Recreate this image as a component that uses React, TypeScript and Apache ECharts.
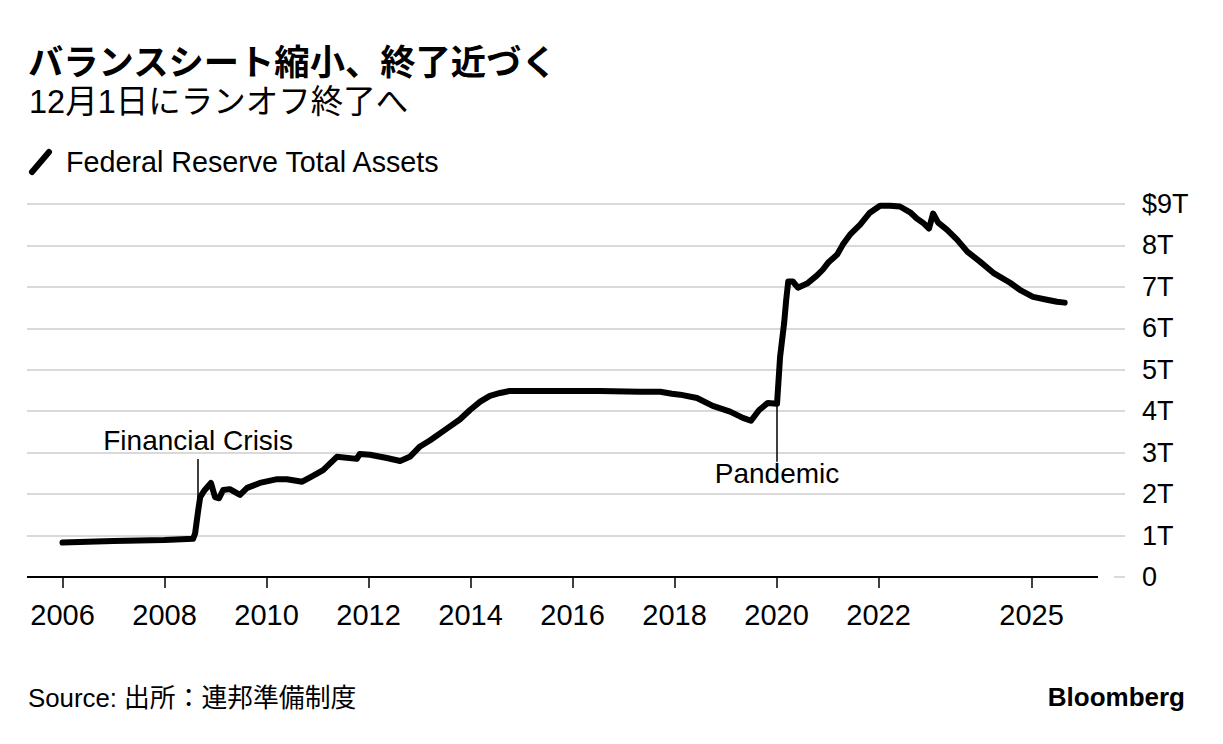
import React, { useEffect, useRef } from "react";
import * as echarts from "echarts";

// Decimal-year positions
const years = [
  2006.0, 2007.0, 2008.0, 2008.56, 2008.6, 2008.66, 2008.7, 2008.79, 2008.91, 2008.99,
  2009.07, 2009.15, 2009.28, 2009.48, 2009.62, 2009.87, 2010.21, 2010.4, 2010.7, 2010.91,
  2011.11, 2011.38, 2011.77, 2011.83, 2012.03, 2012.36, 2012.62, 2012.81, 2013.01, 2013.21,
  2013.5, 2013.79, 2013.99, 2014.19, 2014.38, 2014.58, 2014.77, 2015.17, 2015.75, 2016.54,
  2017.32, 2017.72, 2017.95, 2018.11, 2018.44, 2018.75, 2019.09, 2019.34, 2019.5, 2019.66,
  2019.83, 2020.01, 2020.07, 2020.15, 2020.19, 2020.23, 2020.32, 2020.42, 2020.6, 2020.79,
  2020.91, 2021.01, 2021.19, 2021.3, 2021.44, 2021.64, 2021.83, 2022.03, 2022.23, 2022.42,
  2022.62, 2022.75, 2022.87, 2022.99, 2023.07, 2023.17, 2023.34, 2023.54, 2023.74, 2023.99,
  2024.25, 2024.58, 2024.77, 2025.03, 2025.3, 2025.5, 2025.65,
];

// Federal Reserve total assets, trillions of dollars
const assets = [
  0.83, 0.87, 0.89, 0.92, 1.05, 1.6, 1.93, 2.1, 2.27, 1.93,
  1.9, 2.1, 2.12, 1.98, 2.15, 2.27, 2.36, 2.36, 2.3, 2.44,
  2.58, 2.9, 2.85, 2.97, 2.95, 2.87, 2.8, 2.9, 3.15, 3.3,
  3.55, 3.8, 4.03, 4.23, 4.37, 4.44, 4.49, 4.49, 4.49, 4.49,
  4.47, 4.47, 4.42, 4.4, 4.32, 4.13, 3.99, 3.84, 3.77, 4.03,
  4.2, 4.18, 5.31, 6.13, 6.69, 7.13, 7.13, 6.98, 7.08, 7.27,
  7.42, 7.58, 7.78, 8.02, 8.26, 8.5, 8.79, 8.96, 8.96, 8.94,
  8.8, 8.65, 8.55, 8.41, 8.77, 8.55, 8.38, 8.14, 7.85, 7.61,
  7.34, 7.1, 6.93, 6.76, 6.69, 6.64, 6.62,
];

const xTickYears = [2006, 2008, 2010, 2012, 2014, 2016, 2018, 2020, 2022, 2025];

// labelValue: end of the leader line where the text sits; lineValue: other end
const annotations = [
  { label: "Financial Crisis", year: 2008.66, labelValue: 2.85, lineValue: 1.6, distance: 4 },
  { label: "Pandemic", year: 2020.01, labelValue: 2.78, lineValue: 4.18, distance: -2 },
];

const X_MIN = 2005.304;
const X_MAX = 2026.833;
const AXIS_END = 2026.304;
const STUB_START = 2026.618;

const FONT = "'Liberation Sans', 'Noto Sans CJK JP', sans-serif";

export default function App() {
  const ref = useRef<HTMLDivElement>(null);

  useEffect(() => {
    if (!ref.current) return;
    const chart = echarts.init(ref.current, null, { renderer: "svg" });

    const data = years.map((y, i) => [y, assets[i]]);

    const markData: any[] = [
      [
        { coord: [X_MIN, 0], lineStyle: { color: "#000", width: 2, type: "solid" }, label: { show: false } },
        { coord: [AXIS_END, 0], lineStyle: { color: "#000", width: 2, type: "solid" }, label: { show: false } },
      ],
      [
        { coord: [AXIS_END, 0], lineStyle: { color: "#fff", width: 3, type: "solid" }, label: { show: false } },
        { coord: [STUB_START, 0], lineStyle: { color: "#fff", width: 3, type: "solid" }, label: { show: false } },
      ],
      ...annotations.map((a) => {
        const lbl = {
          show: true,
          position: "start",
          formatter: a.label,
          color: "#000",
          fontSize: 28,
          fontFamily: FONT,
          distance: a.distance,
        };
        return [
          { coord: [a.year, a.labelValue], lineStyle: { color: "#000", width: 1.5, type: "solid" }, label: lbl },
          { coord: [a.year, a.lineValue], lineStyle: { color: "#000", width: 1.5, type: "solid" }, label: lbl },
        ];
      }),
    ];

    const option: any = {
      animation: false,
      backgroundColor: "#fff",
      grid: { left: 27, right: 98, top: 204, bottom: 167 },
      xAxis: {
        type: "value",
        min: X_MIN,
        max: X_MAX,
        axisLine: { show: false },
        splitLine: { show: false },
        axisTick: {
          show: true,
          customValues: xTickYears,
          length: 11,
          lineStyle: { color: "#000", width: 1.5 },
        },
        axisLabel: {
          customValues: xTickYears,
          formatter: (v: number) => String(Math.round(v)),
          fontSize: 29,
          color: "#000",
          margin: 23,
          fontFamily: FONT,
        },
      },
      yAxis: {
        type: "value",
        position: "right",
        min: 0,
        max: 9,
        interval: 1,
        axisLine: { show: false },
        axisTick: { show: false },
        splitLine: { lineStyle: { color: "#d9d9d9", width: 2 } },
        axisLabel: {
          margin: 17,
          fontSize: 27,
          color: "#000",
          fontFamily: FONT,
          formatter: (v: number) => (v === 0 ? "0" : v === 9 ? "$9T" : `${v}T`),
        },
      },
      series: [
        {
          type: "line",
          data,
          showSymbol: false,
          symbol: "none",
          lineStyle: { color: "#000", width: 6, cap: "round", join: "round" },
          markLine: {
            silent: true,
            symbol: ["none", "none"],
            animation: false,
            data: markData,
          },
          z: 3,
        },
      ],
      graphic: [
        {
          type: "text",
          left: 28,
          top: 42,
          style: {
            text: "バランスシート縮小、終了近づく",
            font: `bold 35.3px 'Noto Sans CJK JP', sans-serif`,
            fill: "#000",
          },
        },
        {
          type: "text",
          left: 29,
          top: 86,
          style: {
            text: "12月1日にランオフ終了へ",
            font: `32.5px ${FONT}`,
            fill: "#000",
          },
        },
        {
          type: "line",
          shape: { x1: 32, y1: 172, x2: 49, y2: 152 },
          style: { stroke: "#000", lineWidth: 6, lineCap: "round" },
        },
        {
          type: "text",
          left: 66,
          top: 148,
          style: {
            text: "Federal Reserve Total Assets",
            font: `28.7px ${FONT}`,
            fill: "#000",
          },
        },
        {
          type: "text",
          left: 28,
          top: 685,
          style: {
            text: "Source: 出所：連邦準備制度",
            font: `25.8px ${FONT}`,
            fill: "#000",
          },
        },
        {
          type: "text",
          right: 38,
          top: 684,
          style: {
            text: "Bloomberg",
            font: `bold 26px ${FONT}`,
            fill: "#000",
          },
        },
      ],
    };

    chart.setOption(option);
    return () => chart.dispose();
  }, []);

  return (
    <div
      ref={ref}
      style={{ position: "fixed", left: 0, top: 0, width: 1223, height: 744, background: "#fff" }}
    />
  );
}
